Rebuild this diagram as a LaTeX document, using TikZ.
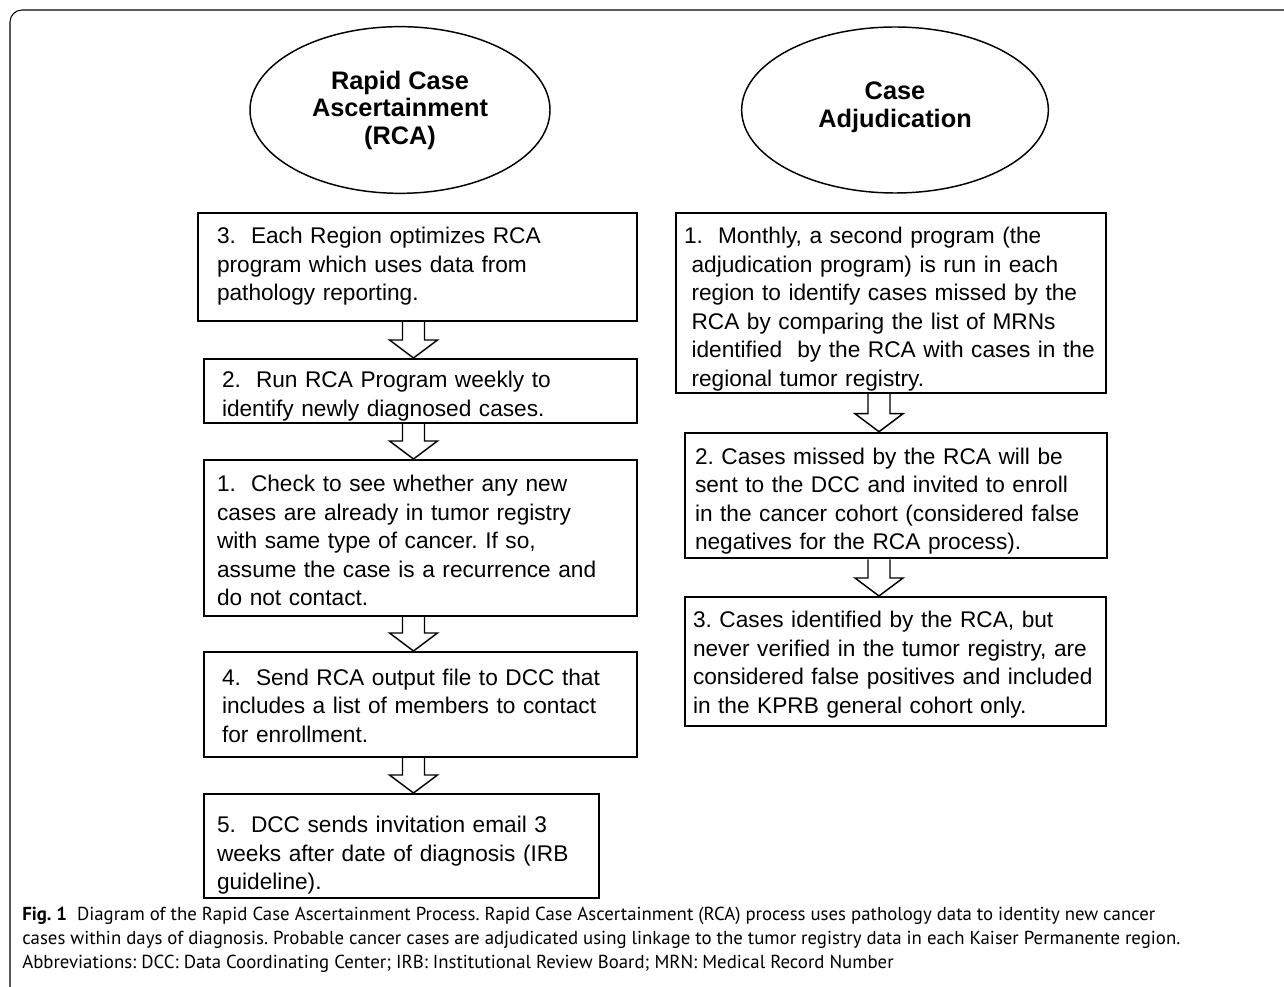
\documentclass[tikz,border=0pt]{standalone}
\usepackage{fontspec}
\setmainfont{Liberation Sans}
\newfontfamily\capfont{PT Sans}
\usetikzlibrary{shapes.geometric,calc}
\newcommand{\blockarrow}[3]{%
  \draw[barr] let \p1=(#1.south -| #3), \p2=(#2.north -| #3) in
    (\x1-8.25pt,\y1) -- (\x1-8.25pt,\y2+13.5pt) -- (\x1-18pt,\y2+13.5pt) --
    (\x1,\y2) -- (\x1+18pt,\y2+13.5pt) -- (\x1+8.25pt,\y2+13.5pt) -- (\x1+8.25pt,\y1);}
% #1 = top strut (box top to first baseline), #2 = last baseline to box bottom, #3 = lines
\newcommand{\boxtext}[3]{\rule{0pt}{#1}#3\rule[-#2]{0pt}{#2}}
\begin{document}
\begin{tikzpicture}[x=0.75pt,y=-0.75pt,
  stepbox/.style={draw, line width=1.5pt, rectangle, inner ysep=0pt, align=left,
    anchor=north west, font=\fontsize{17}{21.4}\selectfont\frenchspacing},
  titleell/.style={draw, ellipse, line width=1.1pt, inner sep=0pt, align=center,
    font=\bfseries\fontsize{19}{20.6}\selectfont},
  barr/.style={draw, line width=1.1pt, line join=miter},
  frameline/.style={draw, line width=0.8pt, rounded corners=9pt},
  captext/.style={anchor=base west, inner sep=0pt,
    font=\capfont\fontsize{14.1}{18}\selectfont\frenchspacing}]
\useasboundingbox (0,0) rectangle (1284,987);
\fill[white] (0,0) rectangle (1284,987);
\draw[frameline] (10,987) -- (10,10) -- (1284,10);

\coordinate (axL) at (413.5,0);
\coordinate (axR) at (879,0);

\node[titleell, minimum width=225pt, minimum height=125pt] (ellL) at (400,110)
  {Rapid Case\\Ascertainment\\(RCA)};
\node[titleell, minimum width=230pt, minimum height=124.5pt] (ellR) at (895,110)
  {Case\\Adjudication\rule[-8pt]{0pt}{8pt}};

\node[stepbox, text width=300.75pt, inner xsep=14.25pt, minimum height=81pt] (L1) at (197,212)
  {\boxtext{22.9pt}{15.3pt}{\mbox{3.~ Each Region optimizes RCA}\\\mbox{program which uses data from}\\\mbox{pathology reporting.}}};
\node[stepbox, text width=297.75pt, inner xsep=13.5pt, minimum height=48pt] (L2) at (203,358)
  {\boxtext{21.5pt}{5.1pt}{\mbox{2.~ Run RCA Program weekly to}\\\mbox{identify newly diagnosed cases.}}};
\node[stepbox, text width=305.25pt, inner xsep=9.75pt, minimum height=117pt] (L3) at (203,459)
  {\boxtext{23.8pt}{7.6pt}{\mbox{1.~ Check to see whether any new}\\\mbox{cases are already in tumor registry}\\\mbox{with same type of cancer. If so,}\\\mbox{assume the case is a recurrence and}\\\mbox{do not contact.}}};
\node[stepbox, text width=297.75pt, inner xsep=13.5pt, minimum height=78.75pt] (L4) at (203,651)
  {\boxtext{25pt}{10.95pt}{\mbox{4.~ Send RCA output file to DCC that}\\\mbox{includes a list of members to contact}\\\mbox{for enrollment.}}};
\node[stepbox, text width=276.75pt, inner xsep=9.75pt, minimum height=78pt] (L5) at (203,793)
  {\boxtext{29pt}{6.2pt}{\mbox{5.~ DCC sends invitation email 3}\\\mbox{weeks after date of diagnosis (IRB}\\\mbox{guideline).}}};

\node[stepbox, text width=310.5pt, inner xsep=6pt, minimum height=135pt] (R1) at (675,212)
  {\boxtext{23pt}{5pt}{\mbox{1.~ Monthly, a second program (the}\\\mbox{\ adjudication program) is run in each}\\\mbox{\ region to identify cases missed by the}\\\mbox{\ RCA by comparing the list of MRNs}\\\mbox{\ identified~ by the RCA with cases in the}\\\mbox{\ regional tumor registry.}}};
\node[stepbox, text width=301.5pt, inner xsep=7.5pt, minimum height=94.2pt] (R2) at (684,431.7)
  {\boxtext{23.7pt}{6.3pt}{\mbox{2. Cases missed by the RCA will be}\\\mbox{sent to the DCC and invited to enroll}\\\mbox{in the cancer cohort (considered false}\\\mbox{negatives for the RCA process).}}};
\node[stepbox, text width=303.75pt, inner xsep=6pt, minimum height=96.75pt] (R3) at (684,596)
  {\boxtext{23pt}{9.55pt}{\mbox{3. Cases identified by the RCA, but}\\\mbox{never verified in the tumor registry, are}\\\mbox{considered false positives and included}\\\mbox{in the KPRB general cohort only.}}};

\blockarrow{L1}{L2}{axL}
\blockarrow{L2}{L3}{axL}
\blockarrow{L3}{L4}{axL}
\blockarrow{L4}{L5}{axL}
\blockarrow{R1}{R2}{axR}
\blockarrow{R2}{R3}{axR}

\node[captext] (cap1) at (22,920) {\textbf{Fig. 1}~ Diagram of the Rapid Case Ascertainment Process. Rapid Case Ascertainment (RCA) process uses pathology data to identity new cancer};
\node[captext] (cap2) at (22,944) {cases within days of diagnosis. Probable cancer cases are adjudicated using linkage to the tumor registry data in each Kaiser Permanente region.};
\node[captext] (cap3) at (22,968) {Abbreviations: DCC: Data Coordinating Center; IRB: Institutional Review Board; MRN: Medical Record Number};
\end{tikzpicture}
\end{document}
